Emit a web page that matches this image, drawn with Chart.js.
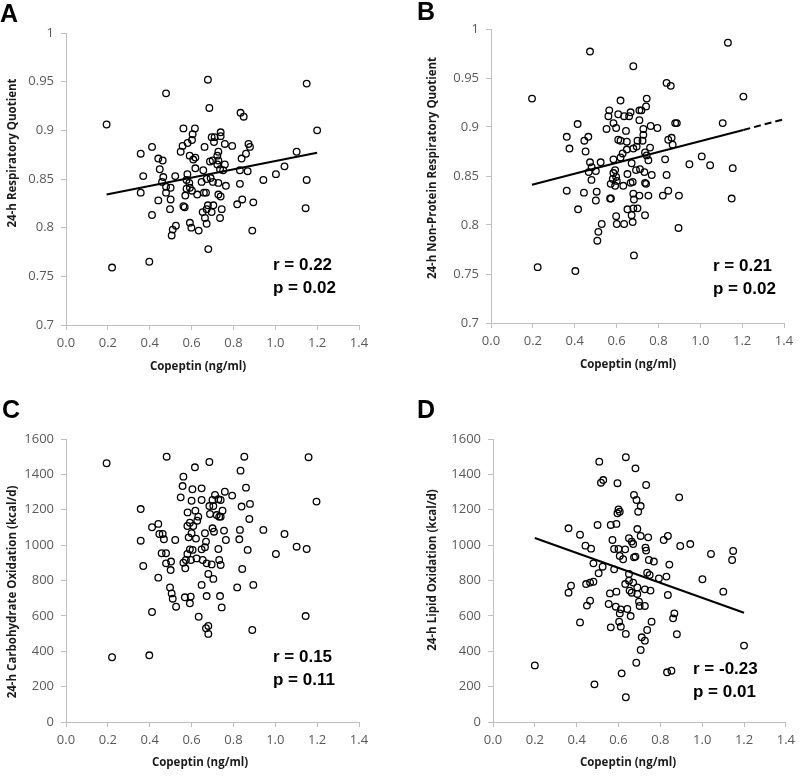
<!DOCTYPE html>
<html>
<head>
<meta charset="utf-8">
<script src="https://cdn.jsdelivr.net/npm/chart.js@4.4.1/dist/chart.umd.min.js"></script>
<style>
  html, body { margin: 0; padding: 0; background: #fff; }
  #wrap { position: relative; width: 800px; height: 780px; }
  canvas { position: absolute; }
</style>
</head>
<body>
<div id="wrap">
  <canvas id="chartA" width="400" height="390" style="left:0;top:0"></canvas>
  <canvas id="chartB" width="400" height="390" style="left:400px;top:0"></canvas>
  <canvas id="chartC" width="400" height="390" style="left:0;top:390px"></canvas>
  <canvas id="chartD" width="400" height="390" style="left:400px;top:390px"></canvas>
</div>
<script>
// Copeptin axis
const copeptinTicks = [0, 0.2, 0.4, 0.6, 0.8, 1.0, 1.2, 1.4];

// A: 24-h respiratory quotient
const aCopeptin = [
  0.194,0.220,0.398,0.357,0.411,0.369,0.357,0.441,0.462,0.448,
  0.465,0.459,0.478,0.500,0.478,0.441,0.500,0.497,0.411,0.522,
  0.561,0.616,0.557,0.581,0.602,0.605,0.548,0.591,0.608,0.618,
  0.580,0.576,0.589,0.592,0.576,0.602,0.570,0.561,0.567,0.525,
  0.510,0.505,0.592,0.599,0.634,0.627,0.618,0.685,0.834,0.849,
  1.200,0.696,0.710,0.739,0.739,0.662,0.707,0.759,0.794,0.728,
  0.723,0.872,0.879,0.860,0.839,1.102,0.688,0.701,0.728,0.723,
  0.759,0.736,0.751,0.656,0.691,0.672,0.648,0.702,0.728,0.831,
  0.868,0.943,1.003,1.044,1.150,0.764,0.831,0.659,0.669,0.728,
  0.739,0.842,0.818,0.895,1.145,0.678,0.704,0.672,0.653,0.696,
  0.744,0.736,0.664,0.672,0.890,0.680,0.678,0.478,1.150
];
const aRQ = [
  0.906,0.759,0.765,0.876,0.883,0.853,0.836,0.871,0.869,0.860,
  0.852,0.847,0.842,0.841,0.836,0.828,0.829,0.819,0.813,0.853,
  0.902,0.902,0.884,0.887,0.890,0.896,0.878,0.874,0.870,0.872,
  0.855,0.849,0.846,0.841,0.840,0.838,0.833,0.822,0.821,0.802,
  0.798,0.792,0.805,0.800,0.797,0.834,0.861,0.923,0.918,0.914,
  0.900,0.893,0.893,0.898,0.894,0.883,0.888,0.886,0.884,0.878,
  0.874,0.886,0.883,0.876,0.871,0.878,0.868,0.869,0.869,0.865,
  0.865,0.860,0.859,0.859,0.851,0.850,0.847,0.847,0.846,0.859,
  0.858,0.849,0.855,0.863,0.849,0.843,0.845,0.836,0.836,0.834,
  0.832,0.829,0.824,0.826,0.820,0.823,0.823,0.819,0.816,0.816,
  0.819,0.810,0.810,0.804,0.797,0.778,0.952,0.938,0.948
];
const aTrendX = [0.194, 1.200];
const aTrendY = [0.834, 0.877];

// B: 24-h non-protein respiratory quotient
const bCopeptin = [
  0.196,0.223,0.403,0.414,0.362,0.375,0.465,0.446,0.452,0.473,
  0.481,0.467,0.501,0.480,0.362,0.444,0.505,0.501,0.416,0.508,
  0.513,0.529,0.524,
  0.839,0.859,1.206,0.619,0.744,0.565,0.561,0.608,0.636,0.660,
  0.667,0.709,0.719,0.741,0.585,0.598,0.709,0.552,0.645,0.728,
  0.763,0.795,0.880,0.888,1.107,0.728,0.608,0.619,0.649,0.700,
  0.724,0.847,0.863,0.868,0.696,0.680,0.649,0.760,0.629,0.619,
  0.736,0.744,0.585,0.672,0.752,0.832,0.948,1.007,1.047,1.155,
  0.593,0.585,0.598,0.693,0.712,0.733,0.652,0.768,0.839,0.582,
  0.601,0.572,0.593,0.632,0.667,0.677,0.736,0.741,0.680,0.709,
  0.683,0.752,0.821,0.847,0.898,0.569,0.573,1.150,0.652,0.680,
  0.700,0.672,0.598,0.736,0.601,0.636,0.677,0.896,0.683,
  0.473,0.680,1.132
];
const bNPRQ = [
  0.929,0.757,0.753,0.903,0.890,0.878,0.890,0.886,0.875,0.864,
  0.859,0.854,0.855,0.846,0.835,0.833,0.834,0.825,0.816,0.784,
  0.793,0.801,0.864,
  0.945,0.942,0.931,0.927,0.929,0.917,0.911,0.913,0.911,0.911,
  0.915,0.917,0.917,0.921,0.904,0.899,0.907,0.898,0.896,0.898,
  0.901,0.899,0.904,0.904,0.904,0.892,0.887,0.886,0.885,0.886,
  0.886,0.887,0.889,0.882,0.880,0.878,0.877,0.879,0.873,0.869,
  0.874,0.871,0.867,0.863,0.866,0.867,0.862,0.870,0.861,0.858,
  0.856,0.853,0.849,0.856,0.857,0.854,0.852,0.851,0.851,0.847,
  0.845,0.842,0.840,0.840,0.843,0.844,0.843,0.842,0.832,0.830,
  0.826,0.830,0.830,0.835,0.830,0.827,0.827,0.827,0.816,0.817,
  0.817,0.810,0.809,0.810,0.801,0.801,0.803,0.797,0.769,
  0.977,0.962,0.986
];
const bTrendX = [0.196, 1.206];
const bTrendY = [0.841, 0.897];
const bForecastX = [1.206, 1.4];
const bForecastY = [0.897, 0.908];

// C: 24-h carbohydrate oxidation (kcal/d)
const cCopeptin = [
  0.194,0.220,0.398,0.481,0.357,0.411,0.441,0.446,0.462,0.468,
  0.522,0.357,0.457,0.478,0.369,0.478,0.502,0.500,0.441,0.497,
  0.505,0.510,0.526,0.411,0.561,0.616,0.557,0.548,0.604,0.600,
  0.581,0.618,0.592,0.580,0.600,0.586,0.621,0.608,0.627,0.632,
  0.592,0.580,0.605,0.561,0.573,0.570,0.597,0.624,0.568,0.596,
  0.592,0.634,
  0.685,0.852,1.159,0.834,1.197,0.648,0.648,0.712,0.700,0.728,
  0.739,0.759,0.794,0.860,0.685,0.704,0.839,0.879,0.688,0.720,
  0.732,0.739,0.748,0.876,0.700,0.707,0.755,0.831,0.943,1.044,
  0.664,0.669,0.764,0.828,0.648,0.664,0.728,0.868,1.003,1.102,
  1.150,0.653,0.672,0.696,0.732,0.739,0.842,0.680,0.704,0.648,
  0.818,0.895,0.672,0.736,0.744,1.145,0.669,0.680,0.680,0.890
];
const cCarbOx = [
  1463,366,377,1500,1204,1101,1120,1063,1063,1033,
  1029,1025,954,954,882,897,907,859,816,761,
  727,697,652,622,1387,1440,1334,1270,1316,1251,
  1185,1195,1127,1108,1067,1044,1037,1108,1138,1161,
  976,950,973,901,916,869,916,925,705,709,
  671,595,
  1470,1500,1497,1421,1246,1321,1255,1284,1255,1259,
  1255,1302,1280,1325,1221,1221,1218,1233,1176,1170,
  1161,1161,1195,1148,1095,1076,1082,1086,1086,1063,
  1067,1020,1029,1033,976,988,978,973,950,991,
  978,916,897,891,916,888,865,837,809,775,
  761,775,712,712,648,599,530,543,498,520
];

// D: 24-h lipid oxidation (kcal/d)
const dCopeptin = [
  0.200,0.485,0.361,0.416,0.442,0.469,0.480,0.373,0.361,0.445,
  0.464,0.480,0.464,0.449,0.416,0.505,
  0.508,0.635,0.681,0.516,0.527,0.595,0.732,0.890,0.674,0.686,
  0.706,0.694,0.600,0.595,0.606,0.500,0.563,0.590,0.690,0.571,
  0.650,0.663,0.670,0.706,0.742,0.816,0.836,0.895,0.943,1.042,
  1.148,1.143,0.579,0.600,0.632,0.729,0.732,0.606,0.622,0.674,
  0.681,0.745,0.769,0.843,0.524,0.579,0.650,0.737,0.749,0.793,
  0.829,1.001,0.632,0.650,0.670,0.653,0.663,0.690,0.690,0.726,
  0.753,0.559,0.590,0.836,1.101,0.553,0.587,0.611,0.642,0.698,
  0.701,0.726,0.658,0.606,0.867,0.861,0.563,0.603,0.611,0.635,
  0.758,0.737,0.711,0.726,0.879,0.706,0.685,0.615,0.832,0.853,
  1.200,0.635
];
const dLipidOx = [
  320,213,1095,1059,997,980,897,771,731,780,
  788,793,686,658,563,841,
  1472,1497,1434,1353,1368,1350,1340,1270,1284,1255,
  1221,1189,1202,1180,1189,1114,1114,1120,1091,1029,
  1039,1020,1006,1052,1044,1029,1052,995,1006,950,
  967,916,978,978,976,986,969,939,920,931,
  935,916,907,890,878,863,837,844,831,812,
  822,807,780,799,788,743,731,761,724,750,
  743,727,737,718,737,667,652,637,639,680,
  656,656,599,614,614,586,535,567,539,498,
  567,520,479,460,496,407,335,275,281,290,
  432,140
];
const dTrendX = [0.200, 1.200];
const dTrendY = [1040, 618];

const axisGray = '#bfbfbf';
const tickColor = '#595959';
const tickFont = { family: '"Open Sans", sans-serif', size: 13 };

const toPoints = (xs, ys) => xs.map((x, i) => ({ x, y: ys[i] }));

// letters, stats and axis titles at fixed spots, like the text boxes in the figure
const panelText = {
  id: 'panelText',
  afterDraw(chart, args, o) {
    const ctx = chart.ctx;
    ctx.save();
    ctx.fillStyle = '#000';
    ctx.textAlign = 'left';
    ctx.textBaseline = 'alphabetic';
    ctx.font = 'bold 25px "Liberation Sans", Arial, sans-serif';
    ctx.fillText(o.letter, o.letterPos[0], o.letterPos[1]);
    ctx.font = 'bold 17px "Liberation Sans", Arial, sans-serif';
    ctx.fillText(o.stats[0], o.statPos[0], o.statPos[1]);
    ctx.fillText(o.stats[1], o.statPos[0], o.statPos[1] + 23);
    ctx.font = 'bold 11.5px "Open Sans", sans-serif';
    ctx.fillStyle = '#1a1a1a';
    ctx.textAlign = 'center';
    ctx.textBaseline = 'middle';
    ctx.fillText(o.xTitle, o.xTitlePos[0], o.xTitlePos[1]);
    ctx.translate(o.yTitlePos[0], o.yTitlePos[1]);
    ctx.rotate(-Math.PI / 2);
    ctx.fillText(o.yTitle, 0, 0);
    ctx.restore();
  }
};

function makePanel(p) {
  const datasets = [{
    data: toPoints(p.xs, p.ys),
    pointRadius: 3.3,
    pointBorderWidth: 1.3,
    pointBorderColor: '#000',
    pointBackgroundColor: 'rgba(255,255,255,0)',
    showLine: false,
  }];
  p.lines.forEach(l => datasets.push({
    data: toPoints(l.xs, l.ys),
    showLine: true,
    borderColor: '#000',
    borderWidth: 2,
    borderDash: l.dash || [],
    pointRadius: 0,
    fill: false,
  }));
  return new Chart(document.getElementById(p.id), {
    type: 'scatter',
    data: { datasets },
    plugins: [panelText],
    options: {
      responsive: false,
      animation: false,
      devicePixelRatio: 1,
      events: [],
      layout: { padding: { left: 0, top: p.area.top, right: p.area.right, bottom: 0 } },
      plugins: {
        legend: { display: false },
        tooltip: { enabled: false },
        panelText: p.text,
      },
      scales: {
        x: {
          type: 'linear', min: 0, max: 1.4,
          afterBuildTicks: s => { s.ticks = copeptinTicks.map(v => ({ value: v })); },
          afterFit: s => { s.height = p.area.xh; },
          ticks: { color: tickColor, font: tickFont, padding: 5, autoSkip: false, maxRotation: 0,
                   callback: v => v.toFixed(1) },
          grid: { drawOnChartArea: false, drawTicks: true, tickLength: 5, color: axisGray },
          border: { color: axisGray },
        },
        y: {
          type: 'linear', min: p.yMin, max: p.yMax,
          afterBuildTicks: s => { s.ticks = p.yTicks.map(v => ({ value: v })); },
          afterFit: s => { s.width = p.area.left; },
          ticks: { color: tickColor, font: tickFont, padding: 7, callback: v => String(Math.round(v * 100) / 100) },
          grid: { drawOnChartArea: false, drawTicks: true, tickLength: 5, color: axisGray },
          border: { color: axisGray },
        },
      },
    },
  });
}

const rqTicks = [0.7, 0.75, 0.8, 0.85, 0.9, 0.95, 1];
const oxTicks = [0, 200, 400, 600, 800, 1000, 1200, 1400, 1600];

makePanel({
  id: 'chartA', xs: aCopeptin, ys: aRQ, yMin: 0.7, yMax: 1, yTicks: rqTicks,
  lines: [{ xs: aTrendX, ys: aTrendY }],
  area: { left: 66, top: 33, right: 41, xh: 65 },
  text: { letter: 'A', letterPos: [0, 22], stats: ['r = 0.22', 'p = 0.02'], statPos: [273, 270],
          xTitle: 'Copeptin (ng/ml)', xTitlePos: [198, 367],
          yTitle: '24-h Respiratory Quotient', yTitlePos: [13, 153] },
});

makePanel({
  id: 'chartB', xs: bCopeptin, ys: bNPRQ, yMin: 0.7, yMax: 1, yTicks: rqTicks,
  lines: [{ xs: bTrendX, ys: bTrendY }, { xs: bForecastX, ys: bForecastY, dash: [7, 4] }],
  area: { left: 91, top: 29, right: 16, xh: 67 },
  text: { letter: 'B', letterPos: [17, 20], stats: ['r = 0.21', 'p = 0.02'], statPos: [313, 271],
          xTitle: 'Copeptin (ng/ml)', xTitlePos: [228, 365],
          yTitle: '24-h Non-Protein Respiratory Quotient', yTitlePos: [33, 168] },
});

makePanel({
  id: 'chartC', xs: cCopeptin, ys: cCarbOx, yMin: 0, yMax: 1600, yTicks: oxTicks,
  lines: [],
  area: { left: 66, top: 49, right: 41, xh: 58 },
  text: { letter: 'C', letterPos: [2, 28], stats: ['r = 0.15', 'p = 0.11'], statPos: [273, 272],
          xTitle: 'Copeptin (ng/ml)', xTitlePos: [200, 373],
          yTitle: '24-h Carbohydrate Oxidation (kcal/d)', yTitlePos: [13, 202] },
});

makePanel({
  id: 'chartD', xs: dCopeptin, ys: dLipidOx, yMin: 0, yMax: 1600, yTicks: oxTicks,
  lines: [{ xs: dTrendX, ys: dTrendY }],
  area: { left: 93, top: 49, right: 14, xh: 58 },
  text: { letter: 'D', letterPos: [17, 28], stats: ['r = -0.23', 'p = 0.01'], statPos: [293, 284],
          xTitle: 'Copeptin (ng/ml)', xTitlePos: [228, 373],
          yTitle: '24-h Lipid Oxidation (kcal/d)', yTitlePos: [33, 180] },
});
</script>
</body>
</html>
